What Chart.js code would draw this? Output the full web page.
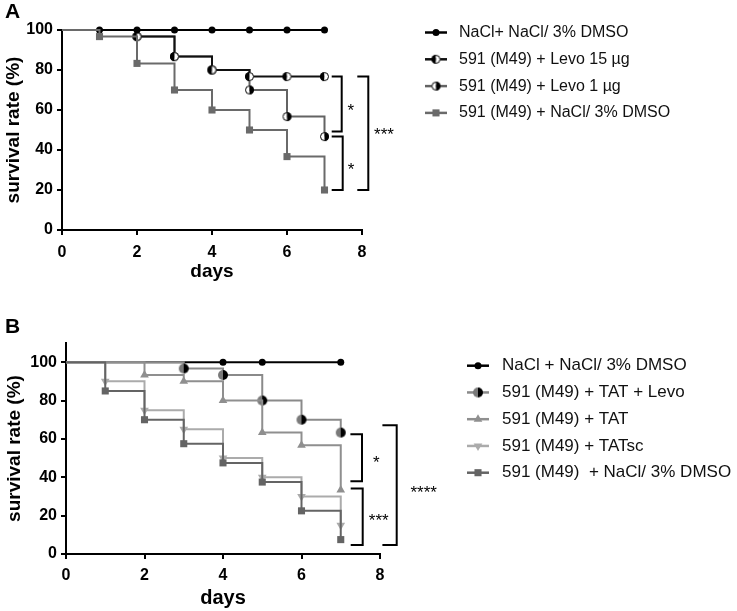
<!DOCTYPE html>
<html>
<head>
<meta charset="utf-8">
<script src="https://cdn.jsdelivr.net/npm/chart.js@4.4.1/dist/chart.umd.min.js"></script>
<style>
  html, body { margin: 0; padding: 0; background: #fff; }
  #wrap { position: relative; width: 737px; height: 611px; }
  canvas { position: absolute; left: 0; }
</style>
</head>
<body>
<div id="wrap">
  <canvas id="chartA" width="737" height="290" style="top:0"></canvas>
  <canvas id="chartB" width="737" height="321" style="top:290px"></canvas>
</div>
<script>
// days of follow-up, same for both panels
const days = [0, 1, 2, 3, 4, 5, 6, 7];

// panel A - survival rate (%)
const labelsA = ['NaCl+ NaCl/ 3% DMSO', '591 (M49) + Levo 15 µg', '591 (M49) + Levo 1 µg', '591 (M49) + NaCl/ 3% DMSO'];
const naclA   = [100, 100, 100, 100, 100, 100, 100, 100];
const levo15A = [100, 100, 96.7, 86.7, 80, 76.7, 76.7, 76.7];
const levo1A  = [100, 100, 96.7, 86.7, 80, 70, 56.7, 46.7];
const dmsoA   = [100, 96.7, 83.3, 70, 60, 50, 36.7, 20];

// panel B - survival rate (%)
const labelsB = ['NaCl + NaCl/ 3% DMSO', '591 (M49) + TAT + Levo', '591 (M49) + TAT', '591 (M49) + TATsc', '591 (M49)  + NaCl/ 3% DMSO'];
const naclB    = [100, 100, 100, 100, 100, 100, 100, 100];
const tatLevoB = [100, 100, 100, 96.7, 93.3, 80, 70, 63.3];
const tatB     = [100, 100, 93.3, 90, 80, 63.3, 56.7, 33.3];
const tatscB   = [100, 90, 75, 65, 50, 40, 30, 15];
const dmsoB    = [100, 85, 70, 57.5, 47.5, 37.5, 22.5, 7.5];
const naclMarksB = [4, 5, 7]; // the only days with a visible marker

const FONT = '"Liberation Sans", Arial, sans-serif';

// small canvas used as a half filled circle marker
function halfCircle(r, left, right, stroke) {
  const c = document.createElement('canvas');
  const s = Math.ceil(r * 2 + 2);
  c.width = c.height = s;
  const g = c.getContext('2d');
  const m = s / 2;
  g.beginPath(); g.moveTo(m, m); g.arc(m, m, r, Math.PI / 2, Math.PI * 1.5); g.closePath();
  g.fillStyle = left; g.fill();
  g.beginPath(); g.moveTo(m, m); g.arc(m, m, r, -Math.PI / 2, Math.PI / 2); g.closePath();
  g.fillStyle = right; g.fill();
  if (stroke) {
    g.beginPath(); g.arc(m, m, r - 0.5, 0, Math.PI * 2);
    g.lineWidth = 1; g.strokeStyle = stroke; g.stroke();
  }
  return c;
}

function series(label, vals, color, style, radius, marked, extra) {
  return Object.assign({
    label: label,
    data: days.map((d, i) => ({ x: d, y: vals[i] })),
    stepped: true,
    borderColor: color,
    borderWidth: 2,
    fill: false,
    clip: false,
    pointStyle: style,
    pointBackgroundColor: color,
    pointBorderWidth: 0,
    pointRadius: (ctx) => marked(days[ctx.dataIndex]) ? radius : 0,
    legendRadius: radius
  }, extra || {});
}

// legend drawn at the right of each chart
const sideLegend = {
  id: 'sideLegend',
  afterDraw(chart, args, opts) {
    const ctx = chart.ctx;
    ctx.save();
    chart.data.datasets.forEach((ds, i) => {
      const y = opts.y + i * opts.dy;
      ctx.beginPath();
      ctx.moveTo(opts.x, y);
      ctx.lineTo(opts.x + opts.len, y);
      ctx.lineWidth = 2.5;
      ctx.strokeStyle = ds.borderColor;
      ctx.stroke();
      ctx.fillStyle = ds.pointBackgroundColor;
      ctx.strokeStyle = ds.pointBackgroundColor;
      Chart.helpers.drawPoint(ctx, {
        pointStyle: ds.pointStyle, radius: ds.legendRadius,
        rotation: ds.pointRotation || 0, borderWidth: 0
      }, opts.x + opts.len / 2, y);
      ctx.fillStyle = '#111';
      ctx.font = opts.size + 'px ' + FONT;
      ctx.textBaseline = 'middle';
      ctx.textAlign = 'left';
      ctx.fillText(ds.label, opts.textX, y);
    });
    ctx.restore();
  }
};

// significance brackets and panel letter
const extras = {
  id: 'extras',
  afterDraw(chart, args, opts) {
    const ctx = chart.ctx;
    const ys = chart.scales.y;
    const right = chart.chartArea.right;
    ctx.save();
    ctx.strokeStyle = '#000';
    ctx.lineWidth = 2;
    opts.brackets.forEach(b => {
      const y1 = ys.getPixelForValue(b.from);
      const y2 = ys.getPixelForValue(b.to);
      const x1 = right + b.x1, x2 = right + b.x2;
      ctx.beginPath();
      ctx.moveTo(x1, y1); ctx.lineTo(x2, y1); ctx.lineTo(x2, y2); ctx.lineTo(x1, y2);
      ctx.stroke();
    });
    ctx.fillStyle = '#000';
    ctx.font = '17px ' + FONT;
    ctx.textAlign = 'center';
    ctx.textBaseline = 'alphabetic';
    opts.stars.forEach(s => {
      ctx.fillText(s.text, right + s.x, ys.getPixelForValue(s.y) + 17 * 0.58);
    });
    ctx.font = 'bold 21px ' + FONT;
    ctx.textAlign = 'left';
    ctx.fillText(opts.letter, 5, opts.letterY);
    ctx.restore();
  }
};

function axes(yMax, yWidth, xHeight, daysSize, daysPad, yPad, xTickPad) {
  const grid = { drawOnChartArea: false, drawTicks: true, tickLength: 5, color: '#000', lineWidth: 2 };
  const border = { color: '#000', width: 2 };
  return {
    x: {
      type: 'linear', min: 0, max: 8,
      ticks: { stepSize: 2, color: '#000', padding: xTickPad, font: { family: FONT, size: 16, weight: 'bold' } },
      grid: grid, border: border,
      title: { display: true, text: 'days', color: '#000', padding: { top: 0, bottom: daysPad },
               font: { family: FONT, size: daysSize, weight: 'bold' } },
      afterFit: (s) => { s.height = xHeight; }
    },
    y: {
      min: 0, max: yMax,
      ticks: { stepSize: 20, color: '#000', padding: 4, font: { family: FONT, size: 16, weight: 'bold' } },
      grid: grid, border: border,
      title: { display: true, text: 'survival rate (%)', color: '#000', padding: { top: yPad, bottom: 0 },
               font: { family: FONT, size: 19, weight: 'bold' } },
      afterBuildTicks: (s) => { s.ticks = s.ticks.filter(t => t.value <= 100); },
      afterFit: (s) => { s.width = yWidth; }
    }
  };
}

const base = {
  responsive: false,
  animation: false,
  events: [],
  plugins: { legend: { display: false }, tooltip: { enabled: false } }
};

// ---- panel A
const levo15Mark = halfCircle(4.5, '#000', '#fff', '#000');
const levo1Mark = halfCircle(4.5, '#fff', '#000', '#000');

new Chart(document.getElementById('chartA'), {
  type: 'line',
  data: {
    datasets: [
      series(labelsA[0], naclA, '#000', 'circle', 3.5, d => d >= 1, { order: 1 }),
      series(labelsA[1], levo15A, '#111', levo15Mark, 4.5, d => d >= 2, { order: 2 }),
      series(labelsA[2], levo1A, '#636363', levo1Mark, 4.5, d => d >= 2, { order: 3 }),
      series(labelsA[3], dmsoA, '#6a6a6a', 'rect', 5, d => d >= 1, { order: 0 })
    ]
  },
  options: Object.assign({}, base, {
    layout: { padding: { left: 0, top: 30, right: 375, bottom: 0 } },
    scales: axes(100, 62, 60, 19, 6.5, 2, 8),
    plugins: Object.assign({}, base.plugins, {
      sideLegend: { x: 425, len: 22, textX: 459, y: 32.5, dy: 26.8, size: 16 },
      extras: {
        letter: 'A', letterY: 18,
        brackets: [
          { from: 76.7, to: 49.3, x1: -30.3, x2: -20.3 },
          { from: 46.7, to: 20, x1: -30.3, x2: -19.3 },
          { from: 76.7, to: 20, x1: -4.7, x2: 6.3 }
        ],
        stars: [
          { text: '*', x: -11.3, y: 62 },
          { text: '*', x: -11, y: 32.5 },
          { text: '***', x: 22, y: 50 }
        ]
      }
    })
  }),
  plugins: [sideLegend, extras]
});

// ---- panel B
const tatLevoMark = halfCircle(5, '#7a7a7a', '#000', null);

new Chart(document.getElementById('chartB'), {
  type: 'line',
  data: {
    datasets: [
      series(labelsB[0], naclB, '#000', 'circle', 3.5, d => naclMarksB.includes(d), { order: 4 }),
      series(labelsB[1], tatLevoB, '#8a8a8a', tatLevoMark, 5, d => d >= 3, { order: 3, pointBackgroundColor: '#7a7a7a' }),
      series(labelsB[2], tatB, '#8f8f8f', 'triangle', 5, d => d >= 2, { order: 2 }),
      series(labelsB[3], tatscB, '#ababab', 'triangle', 5, d => d >= 1, { order: 1, pointRotation: 180 }),
      series(labelsB[4], dmsoB, '#646464', 'rect', 5, d => d >= 1, { order: 0 })
    ]
  },
  options: Object.assign({}, base, {
    layout: { padding: { left: 0, top: 53, right: 357, bottom: 0 } },
    scales: axes(110, 66, 57, 20, 0.5, 3, 7),
    plugins: Object.assign({}, base.plugins, {
      sideLegend: { x: 467, len: 22, textX: 502, y: 75.7, dy: 26.75, size: 17 },
      extras: {
        letter: 'B', letterY: 43,
        brackets: [
          { from: 62.4, to: 37.9, x1: -29.6, x2: -18 },
          { from: 34.1, to: 4.7, x1: -29.3, x2: -17.3 },
          { from: 67.1, to: 4.7, x1: 2.4, x2: 16.7 }
        ],
        stars: [
          { text: '*', x: -3.6, y: 50.2 },
          { text: '***', x: -1.3, y: 19.6 },
          { text: '****', x: 43.7, y: 34.5 }
        ]
      }
    })
  }),
  plugins: [sideLegend, extras]
});
</script>
</body>
</html>
